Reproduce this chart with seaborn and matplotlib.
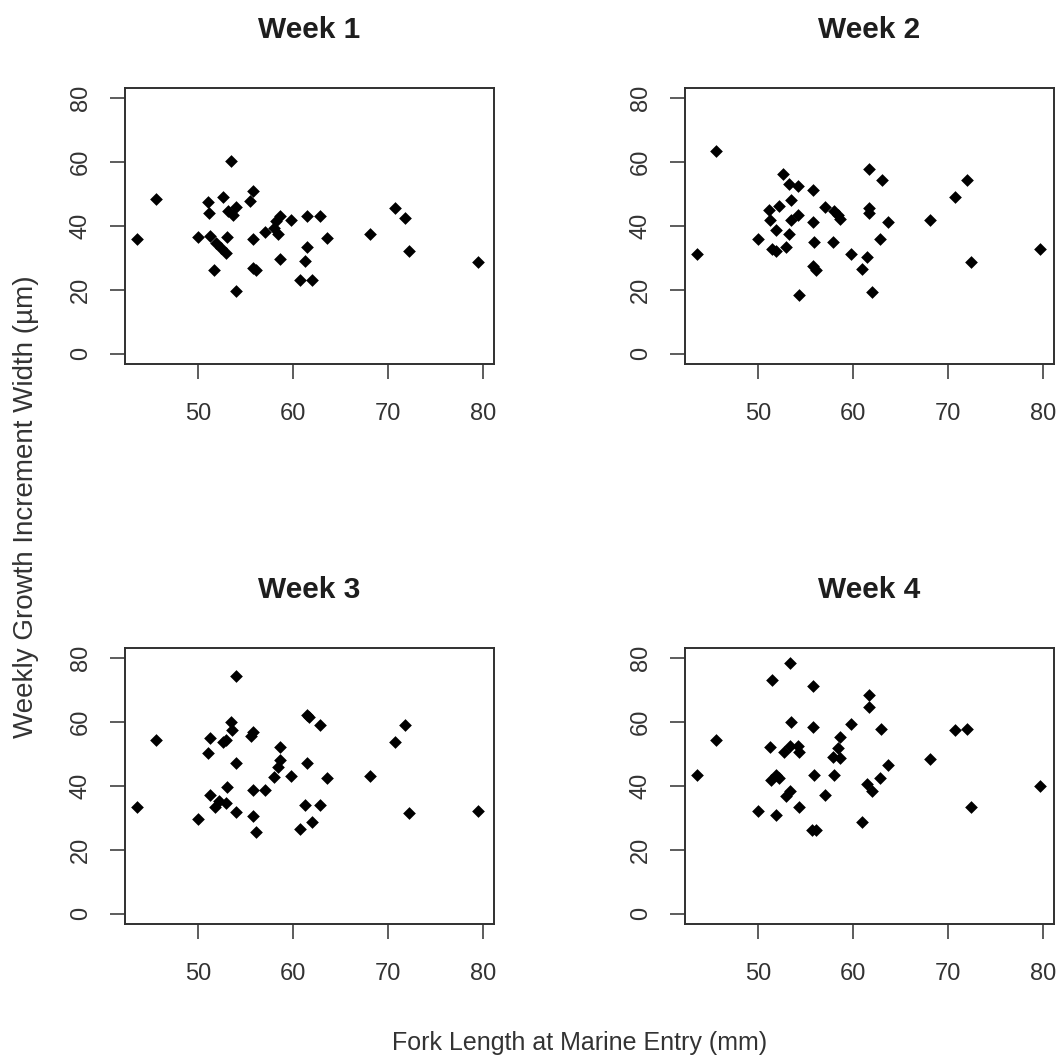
import matplotlib
matplotlib.use("Agg")
import matplotlib.pyplot as plt
import seaborn as sns
import pandas as pd

# Fork length at marine entry (mm) and weekly increment width (um), per week
week1_x = [43.5, 45.5, 53.45, 49.9, 51.0, 51.1, 52.6, 51.2, 51.9, 52.4, 52.9, 53.0,
           51.6, 53.1, 53.6, 54.0, 54.0, 55.7, 55.4, 55.7, 55.7, 56.1, 57.0, 58.0,
           58.2, 58.6, 58.4, 58.6, 59.8, 61.4, 62.8, 61.4, 61.2, 60.7, 62.0, 63.5,
           68.1, 70.7, 71.8, 72.2, 79.5]
week1_y = [35.8, 48.5, 60.5, 36.6, 47.5, 44.0, 49.2, 36.8, 34.7, 33.2, 31.4, 36.6,
           26.1, 44.8, 43.5, 46.1, 19.6, 51.0, 47.7, 35.8, 26.9, 26.2, 38.1, 39.4,
           41.5, 43.2, 37.5, 29.8, 41.8, 43.0, 43.0, 33.5, 29.0, 23.1, 23.1, 36.4,
           37.6, 45.6, 42.4, 32.1, 28.7]

week2_x = [43.5, 45.5, 49.9, 52.6, 53.2, 54.2, 55.7, 53.45, 52.2, 51.1, 51.2, 51.8,
           53.2, 54.2, 53.45, 51.4, 51.9, 52.9, 55.7, 55.8, 55.7, 56.1, 54.3, 57.0,
           58.0, 58.4, 58.6, 57.9, 59.7, 61.4, 60.95, 62.0, 61.6, 61.6, 61.6, 63.0,
           63.6, 62.8, 68.1, 70.7, 72.0, 72.4, 79.7]
week2_y = [31.1, 63.5, 35.8, 56.3, 53.2, 52.5, 51.3, 48.0, 46.3, 45.1, 42.0, 38.9,
           37.6, 43.5, 42.0, 32.8, 32.1, 33.5, 41.1, 35.0, 27.5, 26.2, 18.3, 46.1,
           44.6, 43.5, 42.2, 35.0, 31.1, 30.4, 26.6, 19.2, 58.0, 45.6, 44.2, 54.4,
           41.1, 35.8, 41.8, 49.0, 54.4, 28.7, 32.8]

week3_x = [43.5, 45.5, 54.0, 49.9, 51.2, 51.0, 53.45, 53.5, 52.9, 52.6, 55.7, 55.5,
           54.0, 53.0, 51.2, 51.7, 52.2, 52.9, 54.0, 55.7, 55.7, 56.1, 57.0, 58.6,
           58.6, 58.4, 58.0, 59.8, 61.4, 61.65, 62.8, 61.4, 63.5, 61.2, 62.8, 62.0,
           60.7, 68.1, 70.7, 71.8, 72.2, 79.5]
week3_y = [33.4, 54.4, 74.3, 29.7, 55.1, 50.3, 60.0, 57.5, 54.4, 53.9, 57.0, 55.6,
           47.2, 39.6, 37.1, 33.4, 35.2, 34.7, 31.8, 38.7, 30.6, 25.6, 38.7, 52.1,
           48.0, 46.1, 42.8, 43.0, 62.2, 61.5, 59.1, 47.2, 42.5, 34.0, 34.0, 28.7,
           26.6, 43.0, 53.7, 59.1, 31.6, 32.1]

week4_x = [43.5, 45.5, 53.3, 51.4, 55.7, 61.6, 61.6, 53.45, 55.7, 59.8, 62.95, 70.7,
           72.0, 51.2, 52.7, 53.3, 54.2, 54.3, 58.6, 58.4, 57.9, 58.6, 68.1, 63.6,
           51.8, 51.3, 52.2, 55.8, 58.0, 62.8, 61.4, 62.0, 52.9, 53.3, 57.0, 54.3,
           49.9, 51.8, 60.95, 55.6, 56.1, 72.4, 79.7]
week4_y = [43.5, 54.4, 78.4, 73.1, 71.3, 68.4, 64.6, 59.9, 58.5, 59.3, 58.0, 57.5,
           58.0, 52.1, 50.8, 52.5, 52.5, 50.8, 55.2, 51.8, 49.0, 48.7, 48.4, 46.6,
           43.5, 41.8, 42.5, 43.6, 43.6, 42.5, 40.7, 38.3, 37.0, 38.3, 37.1, 33.5,
           32.1, 30.9, 28.7, 26.2, 26.2, 33.4, 39.9]

titles = ["Week 1", "Week 2", "Week 3", "Week 4"]
x_ticks = [50, 60, 70, 80]
y_ticks = [0, 20, 40, 60, 80]
x_label = "Fork Length at Marine Entry (mm)"
y_label = "Weekly Growth Increment Width (\u00b5m)"

sns.set_theme(style="white")
plt.rcParams["font.family"] = ["Liberation Sans", "DejaVu Sans"]

W, H = 1060, 1059
fig = plt.figure(figsize=(W / 100, H / 100), dpi=100)
fig.patch.set_facecolor("white")

# panel boxes in pixels: (left, top, right, bottom)
boxes = [(125, 88, 494, 364), (685, 88, 1054, 364),
         (125, 648, 494, 924), (685, 648, 1054, 924)]

data = [(week1_x, week1_y), (week2_x, week2_y),
        (week3_x, week3_y), (week4_x, week4_y)]

line_col = "#303030"
text_col = "#333333"

for (l, t, r, b), (xs, ys), title in zip(boxes, data, titles):
    ax = fig.add_axes([l / W, 1 - b / H, (r - l) / W, (b - t) / H])
    df = pd.DataFrame({"length": xs, "width": ys})
    sns.scatterplot(data=df, x="length", y="width", ax=ax, marker="D",
                    s=42, color="black", edgecolor="black", linewidth=0)
    ax.set_xlim(42.26, 81.14)
    ax.set_ylim(-3.2, 83.2)
    ax.set_xticks(x_ticks)
    ax.set_yticks(y_ticks)
    ax.set_xlabel("")
    ax.set_ylabel("")
    for sp in ax.spines.values():
        sp.set_visible(True)
        sp.set_color(line_col)
        sp.set_linewidth(1.4)
    ax.tick_params(axis="both", direction="out", length=11, width=1.1,
                   color=line_col, labelcolor=text_col, labelsize=17,
                   bottom=True, left=True)
    ax.tick_params(axis="x", pad=17)
    ax.tick_params(axis="y", pad=13)
    for lab in ax.get_yticklabels():
        lab.set_rotation(90)
        lab.set_va("center")
    ax.set_title(title, fontsize=21.5, fontweight="bold", color="#1e1e1e", pad=36)

fig.text(33 / W, 1 - 507 / H, y_label, rotation=90, rotation_mode="anchor",
         ha="center", va="baseline", fontsize=20, color=text_col)
fig.text(580 / W, 1 - 1043 / H, x_label, ha="center", va="center",
         fontsize=18, color=text_col)

fig.savefig("out.png", dpi=100, facecolor="white")
